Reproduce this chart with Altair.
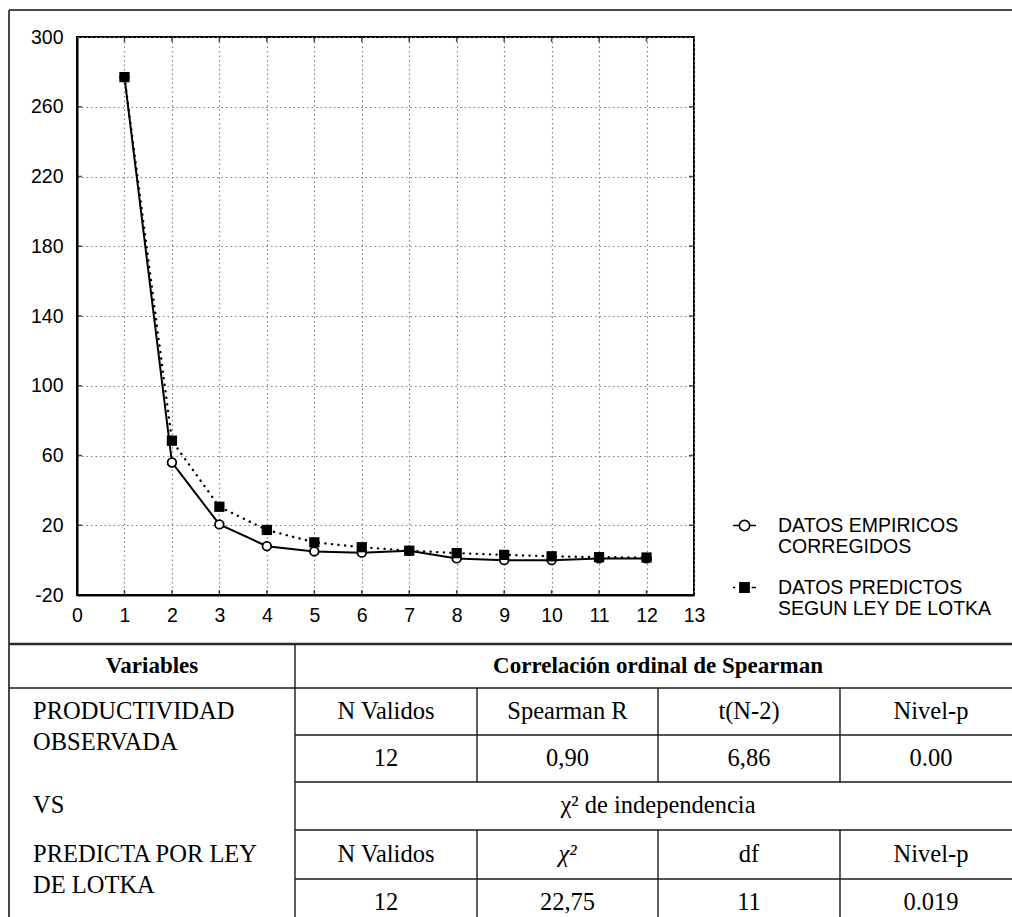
import altair as alt
import pandas as pd

# ------------------------------------------------------------------ data
X_VALUES = [1, 2, 3, 4, 5, 6, 7, 8, 9, 10, 11, 12]
EMPIRICOS = [277, 56, 20.5, 8, 5, 4.3, 5.4, 1, 0, 0, 1, 1]
PREDICTOS = [277, 68.5, 30.6, 17.3, 10.2, 7.4, 5.4, 4, 3, 2.2, 1.7, 1.5]
SERIES = ["DATOS EMPIRICOS|CORREGIDOS", "DATOS PREDICTOS|SEGUN LEY DE LOTKA"]
X_TICKS = list(range(0, 14))
Y_TICKS = list(range(-20, 301, 40))

HEADER = ["Variables", "Correlación ordinal de Spearman"]
LEFT_FIRST = ["PRODUCTIVIDAD", "VS", "PREDICTA POR LEY"]
LEFT_SECOND = ["OBSERVADA", "", "DE LOTKA"]
SPEARMAN_HEAD = ["N Validos", "Spearman R", "t(N-2)", "Nivel-p"]
SPEARMAN_VALS = ["12", "0,90", "6,86", "0.00"]
CHI_TITLE = "χ² de independencia"
CHI_HEAD = ["N Validos", "χ²", "df", "Nivel-p"]
CHI_VALS = ["12", "22,75", "11", "0.019"]

# ------------------------------------------------------------------ layout
PLOT_L, PLOT_T, PLOT_R, PLOT_B = 77, 37, 694, 595
PAGE_W, PAGE_H = 1012, 917
COL_EDGES_PX = [9, 295, 477, 658, 840, 1022]          # table column borders
ROW_EDGES_PX = [10, 644, 688, 735, 782, 830, 879, 926]  # frame top, then table rows

SANS = "Liberation Sans"
SERIF = "Liberation Serif"

x_scale = alt.Scale(domain=[0, 13], nice=False, zero=False)
y_scale = alt.Scale(domain=[-20, 300], nice=False, zero=False)

grid_common = dict(grid=True, gridDash=[1.5, 3], gridColor="#808080", gridWidth=1.2,
                   domain=True, domainColor="black", domainWidth=2,
                   ticks=False, tickSize=0, labelFont=SANS, labelFontSize=19.5,
                   labelColor="black", title=None, labelFlush=False,
                   labelExpr="toString(datum.value)")
x_axis = alt.Axis(values=X_TICKS, labelPadding=11, **grid_common)
y_axis = alt.Axis(values=Y_TICKS, labelPadding=14, **grid_common)

emp_df = pd.DataFrame({"x": X_VALUES, "y": EMPIRICOS})
pred_df = pd.DataFrame({"x": X_VALUES, "y": PREDICTOS})

def xy(base):
    return base.encode(x=alt.X("x:Q", scale=x_scale, axis=x_axis),
                       y=alt.Y("y:Q", scale=y_scale, axis=y_axis))

pred_line = xy(alt.Chart(pred_df).mark_line(color="black", strokeWidth=2.4,
                                             strokeDash=[0.1, 6.5], strokeCap="round"))
emp_line = xy(alt.Chart(emp_df).mark_line(color="black", strokeWidth=2))
emp_pts = xy(alt.Chart(emp_df).mark_point(shape="circle", filled=True, fill="white",
                                          stroke="black", strokeWidth=1.8, size=75, opacity=1))
pred_pts = xy(alt.Chart(pred_df).mark_square(size=105, color="black", opacity=1))

# inward ticks on the four sides of the frame (clipped half of each tick)
tv_df = pd.DataFrame({"x": X_TICKS[1:-1] * 2,
                      "y": [Y_TICKS[0]] * 12 + [Y_TICKS[-1]] * 12})
th_df = pd.DataFrame({"x": [0] * 7 + [13] * 7,
                      "y": Y_TICKS[1:-1] * 2})
ticks_v = xy(alt.Chart(tv_df).mark_tick(orient="vertical", size=10, thickness=1.5,
                                         color="black", clip=True))
ticks_h = xy(alt.Chart(th_df).mark_tick(orient="horizontal", size=10, thickness=1.5,
                                         color="black", clip=True))

# legend (built from an empty layer with explicit scale domains)
PATH_C = ("M-1,0H-0.45 M0.45,0H1 M0.45,0A0.45,0.45,0,1,1,-0.45,0"
          "A0.45,0.45,0,1,1,0.45,0Z")
PATH_S = "M-1,0H-0.8 M-0.4,-0.4H0.4V0.4H-0.4Z M0.62,0H1"
leg = alt.Legend(title=None, orient="none", legendX=PLOT_R - PLOT_L + 38, legendY=476,
                 symbolSize=529, symbolStrokeWidth=1.6, symbolOpacity=1,
                 labelFont=SANS, labelFontSize=19.5, labelColor="black",
                 labelOffset=21, labelLimit=400, labelExpr="split(datum.label, '|')",
                 rowPadding=18, padding=0)
legend_layer = alt.Chart(pd.DataFrame({"serie": SERIES})).transform_filter("false").mark_point(
    filled=True, opacity=1, strokeWidth=1.6).encode(
    shape=alt.Shape("serie:N", scale=alt.Scale(domain=SERIES, range=[PATH_C, PATH_S]), legend=leg),
    fill=alt.Fill("serie:N", scale=alt.Scale(domain=SERIES, range=["white", "black"]), legend=leg),
    stroke=alt.Stroke("serie:N", scale=alt.Scale(domain=SERIES, range=["black", "black"]), legend=leg),
)

main = alt.layer(pred_line, emp_line, emp_pts, pred_pts, ticks_v, ticks_h, legend_layer)

# ------------------------------------------------------------------ table
tx = alt.Scale(domain=list(range(len(COL_EDGES_PX))),
               range=[e - PLOT_L for e in COL_EDGES_PX], nice=False, zero=False)
ty = alt.Scale(domain=list(range(-1, len(ROW_EDGES_PX) - 1)),
               range=[e - PLOT_T for e in ROW_EDGES_PX], nice=False, zero=False)

def hrules(df, **kw):
    return alt.Chart(df).mark_rule(**kw).encode(
        x=alt.X("c0:Q", scale=tx, axis=None), x2="c1:Q",
        y=alt.Y("r:Q", scale=ty, axis=None))

def vrules(df, **kw):
    return alt.Chart(df).mark_rule(**kw).encode(
        x=alt.X("c:Q", scale=tx, axis=None),
        y=alt.Y("r0:Q", scale=ty, axis=None), y2="r1:Q")

frame_h = hrules(pd.DataFrame({"r": [-1], "c0": [0], "c1": [5]}), color="#4a4a4a", strokeWidth=2)
frame_v = vrules(pd.DataFrame({"c": [0], "r0": [-1], "r1": [6]}), color="#4a4a4a", strokeWidth=2)
top_line = hrules(pd.DataFrame({"r": [0], "c0": [0], "c1": [5]}), color="#2a2a2a", strokeWidth=2.6)
h_lines = hrules(pd.DataFrame({"r": [1, 2, 3, 4, 5], "c0": [0, 1, 1, 1, 1], "c1": [5] * 5}),
                 color="#1a1a1a", strokeWidth=1.4)
v_lines = vrules(pd.DataFrame({"c": [1, 2, 3, 4, 2, 3, 4],
                               "r0": [0, 1, 1, 1, 4, 4, 4],
                               "r1": [6, 3, 3, 3, 6, 6, 6]}),
                 color="#1a1a1a", strokeWidth=1.4)

def texts(df, **kw):
    return alt.Chart(df).mark_text(**kw).encode(
        x=alt.X("c:Q", scale=tx, axis=None),
        y=alt.Y("r:Q", scale=ty, axis=None),
        text="t:N")

centers = [1.5, 2.5, 3.5, 4.5]
bold_df = pd.DataFrame({"t": HEADER, "c": [0.5, 3.0], "r": [0.5, 0.5]})
reg_rows = []
for t, c in zip(SPEARMAN_HEAD, centers):
    reg_rows.append((t, c, 1.5))
for t, c in zip(SPEARMAN_VALS, centers):
    reg_rows.append((t, c, 2.5))
reg_rows.append((CHI_TITLE, 3.0, 3.5))
for t, c in zip(CHI_HEAD, centers):
    if t != "χ²":
        reg_rows.append((t, c, 4.5))
for t, c in zip(CHI_VALS, centers):
    reg_rows.append((t, c, 5.5))
reg_df = pd.DataFrame(reg_rows, columns=["t", "c", "r"])
ital_df = pd.DataFrame({"t": ["χ²"], "c": [2.5], "r": [4.5]})
left1_df = pd.DataFrame({"t": LEFT_FIRST, "c": [0, 0, 0], "r": [1.5, 3.5, 4.5]})
left2_df = pd.DataFrame({"t": LEFT_SECOND, "c": [0, 0, 0], "r": [1.5, 3.5, 4.5]})

txt_style = dict(font=SERIF, fontSize=24.5, color="black", baseline="middle")
t_bold = texts(bold_df, font=SERIF, fontSize=23, fontWeight="bold", color="black",
               baseline="middle", align="center")
t_reg = texts(reg_df, align="center", **txt_style)
t_ital = texts(ital_df, align="center", fontStyle="italic", **txt_style)
t_left1 = texts(left1_df, align="left", dx=24, **txt_style)
t_left2 = texts(left2_df, align="left", dx=24, dy=31, **txt_style)

table = alt.layer(frame_h, frame_v, top_line, h_lines, v_lines,
                  t_bold, t_reg, t_ital, t_left1, t_left2)

chart = alt.layer(table, main).resolve_scale(
    x="independent", y="independent"
).properties(
    width=PLOT_R - PLOT_L,
    height=PLOT_B - PLOT_T,
    padding={"left": PLOT_L, "top": PLOT_T,
             "right": PAGE_W - PLOT_R, "bottom": PAGE_H - PLOT_B},
    autosize=alt.AutoSizeParams(type="none"),
    background="white",
).configure_view(stroke="black", strokeWidth=2)

chart.save("out.html", embed_options={"renderer": "svg", "actions": False})
